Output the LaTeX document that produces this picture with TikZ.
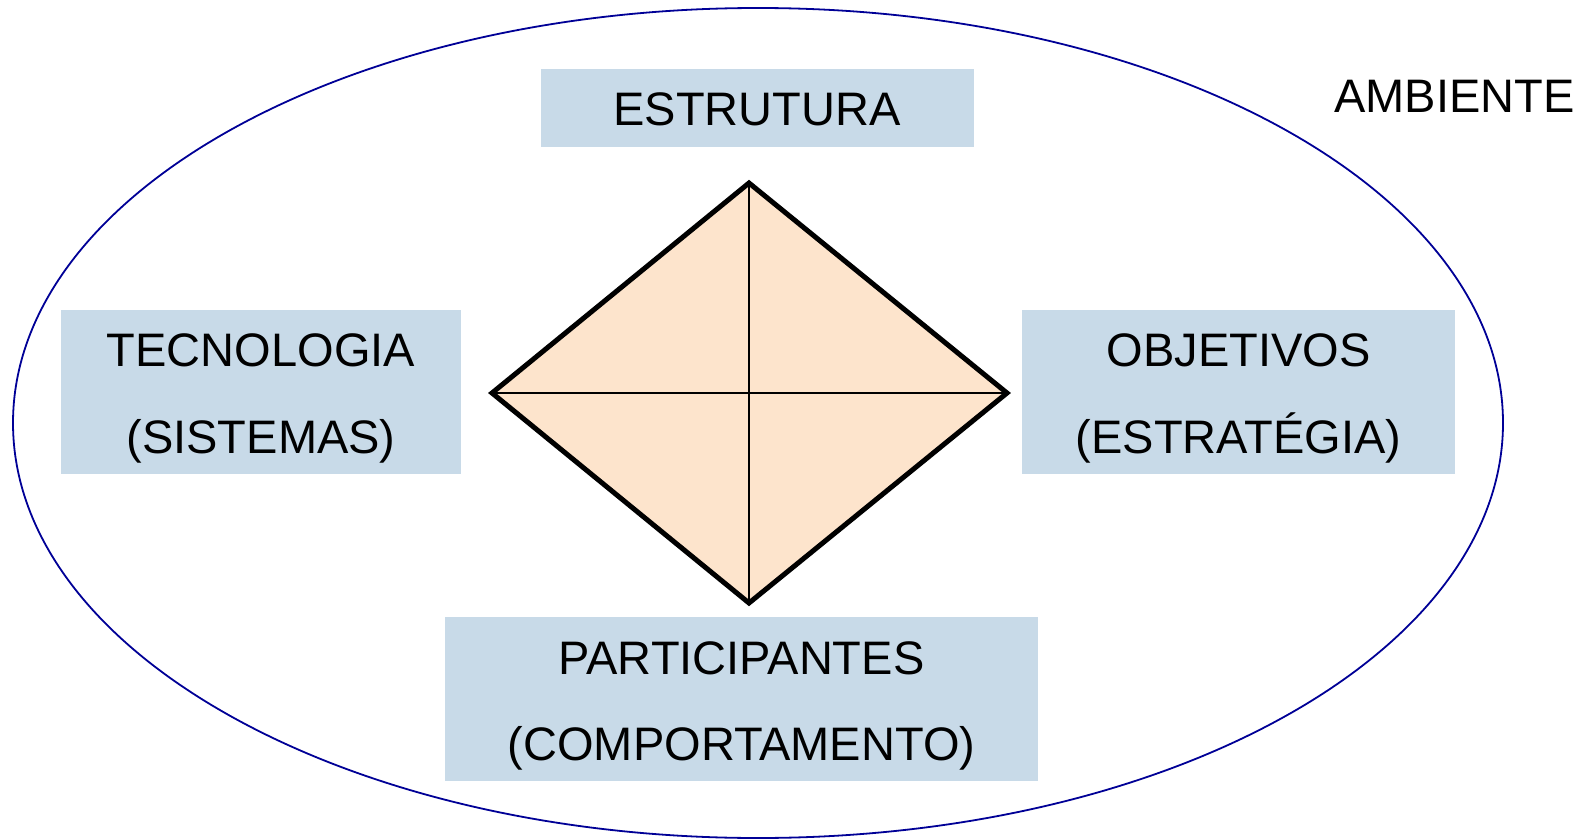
\documentclass[tikz,border=0pt]{standalone}
\usepackage{fontspec}
\setmainfont{Liberation Sans}
\usetikzlibrary{shapes.geometric}
\definecolor{boxblue}{RGB}{200,218,232}
\definecolor{peach}{RGB}{253,228,204}
\definecolor{navy}{RGB}{0,0,150}
\begin{document}
\begin{tikzpicture}[x=1pt,y=-1pt,
  box/.style={fill=boxblue, draw=none, inner sep=0pt},
  txt/.style={anchor=base, inner sep=0pt, font=\fontsize{47}{87}\selectfont},
  thinline/.style={line width=2pt, black}]
\useasboundingbox (0,0) rectangle (1587,840);
% environment ellipse
\node[draw=navy, line width=1.8pt, ellipse, minimum width=1490pt, minimum height=830pt, inner sep=0pt] (env) at (758,423) {};
% boxes
\node[box, minimum width=433pt, minimum height=78pt] (est) at (757.5,108) {};
\node[box, minimum width=400pt, minimum height=164pt] (tec) at (261,392) {};
\node[box, minimum width=433pt, minimum height=164pt] (obj) at (1238.5,392) {};
\node[box, minimum width=593pt, minimum height=164pt] (par) at (741.5,699) {};
% texts
\node[txt] (estT) at (757,126) {ESTRUTURA};
\node[txt] (tecT1) at (261,366) {TECNOLOGIA};
\node[txt] (tecT2) at (261,453) {(SISTEMAS)};
\node[txt] (objT1) at (1238.5,366) {OBJETIVOS};
\node[txt] (objT2) at (1238.5,453) {(ESTRATÉGIA)};
\node[txt] (parT1) at (741.5,674) {PARTICIPANTES};
\node[txt] (parT2) at (741.5,760) {(COMPORTAMENTO)};
\node[txt, anchor=base west] (amb) at (1334,113) {AMBIENTE};
% diamond
\coordinate (dt) at (749,183);
\coordinate (dl) at (492,393);
\coordinate (dr) at (1007,393);
\coordinate (db) at (749,603);
\fill[peach] (dt) -- (dr) -- (db) -- (dl) -- cycle;
\draw[thinline] (dt) -- (db);
\draw[thinline] (dl) -- (dr);
\draw[line width=5pt, line join=miter] (dt) -- (dr) -- (db) -- (dl) -- cycle;
\end{tikzpicture}
\end{document}
